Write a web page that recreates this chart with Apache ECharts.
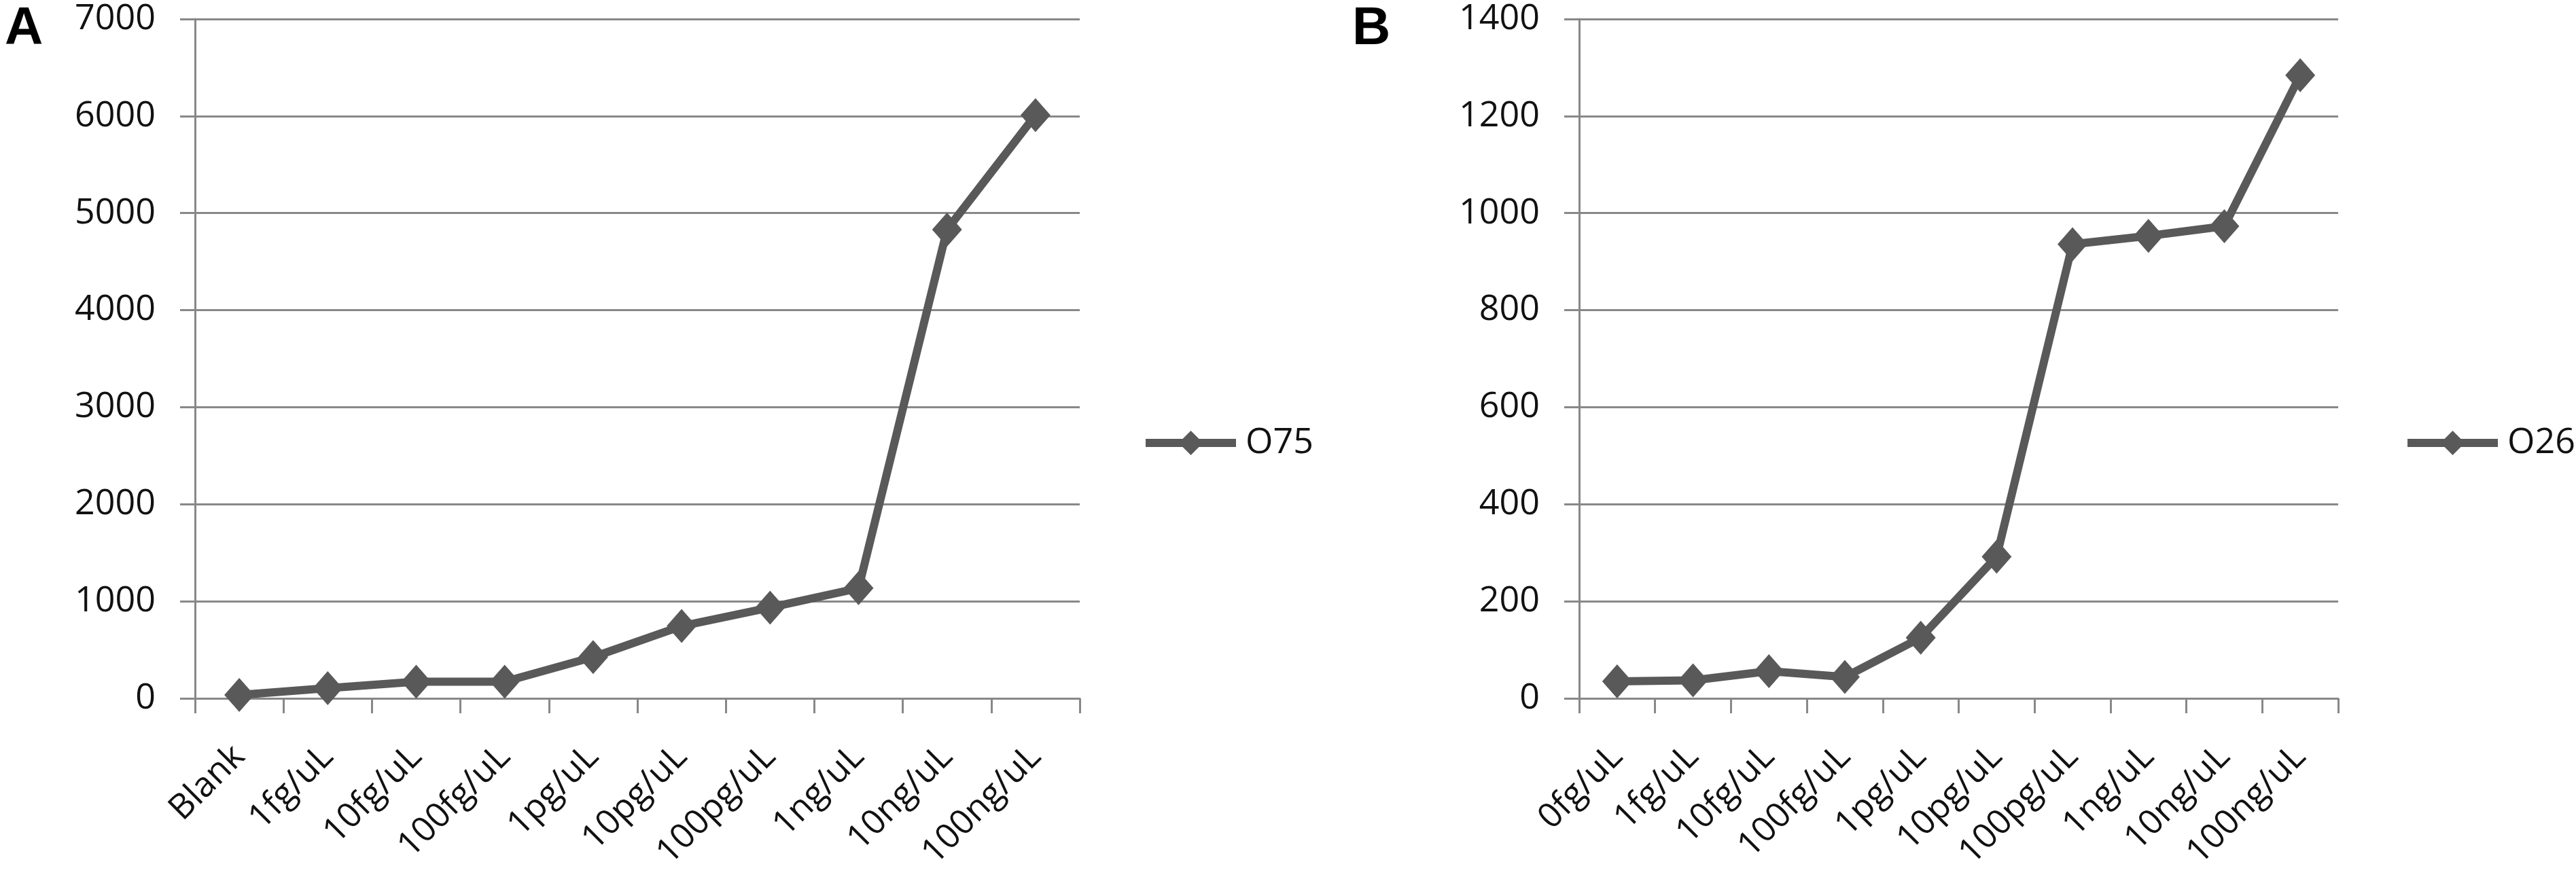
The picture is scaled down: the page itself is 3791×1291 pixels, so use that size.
<!DOCTYPE html>
<html>
<head>
<meta charset="utf-8">
<title>O75 / O26</title>
<script src="https://cdn.jsdelivr.net/npm/echarts@6/dist/echarts.min.js"></script>
<style>
  html, body { margin: 0; padding: 0; background: #fff; }
  #main { width: 3791px; height: 1291px; }
</style>
</head>
<body>
<div id="main"></div>
<script>
// categories (x axis)
var categoriesA = ['Blank', '1fg/uL', '10fg/uL', '100fg/uL', '1pg/uL', '10pg/uL', '100pg/uL', '1ng/uL', '10ng/uL', '100ng/uL'];
var categoriesB = ['0fg/uL', '1fg/uL', '10fg/uL', '100fg/uL', '1pg/uL', '10pg/uL', '100pg/uL', '1ng/uL', '10ng/uL', '100ng/uL'];

// series values
var valuesO75 = [35, 105, 172, 172, 425, 745, 935, 1135, 4830, 6010];
var valuesO26 = [35, 37, 56, 44, 125, 292, 936, 953, 973, 1284];

// y axis ticks
var ticksA = [0, 1000, 2000, 3000, 4000, 5000, 6000, 7000];
var ticksB = [0, 200, 400, 600, 800, 1000, 1200, 1400];

var gridColor = '#888888';
var lineColor = '#595959';
var labelFont = 'Open Sans';

function yAxisFor(idx, ticks) {
    return {
        type: 'value',
        gridIndex: idx,
        min: ticks[0],
        max: ticks[ticks.length - 1],
        interval: ticks[1] - ticks[0],
        axisLine: { show: true, lineStyle: { color: gridColor, width: 3 } },
        axisTick: { show: true, length: 22, lineStyle: { color: gridColor, width: 3 } },
        splitLine: { show: true, lineStyle: { color: gridColor, width: 3 } },
        axisLabel: {
            margin: 58, fontSize: 52, color: '#111', fontFamily: labelFont,
            formatter: function (v) { return String(v); }   // no thousands separator
        }
    };
}

function xAxisFor(idx, cats) {
    return {
        type: 'category',
        gridIndex: idx,
        data: cats,
        boundaryGap: true,
        axisLine: { show: true, lineStyle: { color: gridColor, width: 3 } },
        axisTick: { show: true, length: 22, alignWithLabel: false, lineStyle: { color: gridColor, width: 3 } },
        axisLabel: { interval: 0, rotate: 45, margin: 78, fontSize: 51, color: '#111', fontFamily: labelFont }
    };
}

function seriesFor(name, idx, values) {
    return {
        name: name,
        type: 'line',
        xAxisIndex: idx,
        yAxisIndex: idx,
        data: values,
        symbol: 'diamond',
        symbolSize: [44, 50],
        lineStyle: { color: lineColor, width: 12 },
        itemStyle: { color: lineColor },
        emphasis: { disabled: true }
    };
}

function legendFor(name, left) {
    return {
        data: [name],
        left: left,
        top: 626,
        padding: 0,
        itemWidth: 133,
        itemHeight: 45,
        lineStyle: { color: lineColor, width: 12 },
        itemStyle: { color: lineColor },
        textStyle: { fontSize: 52, color: '#111', fontFamily: labelFont, padding: [0, 0, 0, 9] }
    };
}

var chart = echarts.init(document.getElementById('main'));
var option = {
    animation: false,
    backgroundColor: '#ffffff',
    grid: [
        { left: 287, top: 28, width: 1302, height: 1000 },
        { left: 2324, top: 28, width: 1117, height: 1000 }
    ],
    xAxis: [xAxisFor(0, categoriesA), xAxisFor(1, categoriesB)],
    yAxis: [yAxisFor(0, ticksA), yAxisFor(1, ticksB)],
    legend: [legendFor('O75', 1680), legendFor('O26', 3537)],
    series: [seriesFor('O75', 0, valuesO75), seriesFor('O26', 1, valuesO26)],
    graphic: [
        { type: 'text', left: 7, top: 4, style: { text: 'A', font: 'bold 78px "Liberation Sans"', fill: '#000' } },
        { type: 'text', left: 1990, top: 4, style: { text: 'B', font: 'bold 78px "Liberation Sans"', fill: '#000' } }
    ]
};
chart.setOption(option);
</script>
</body>
</html>
